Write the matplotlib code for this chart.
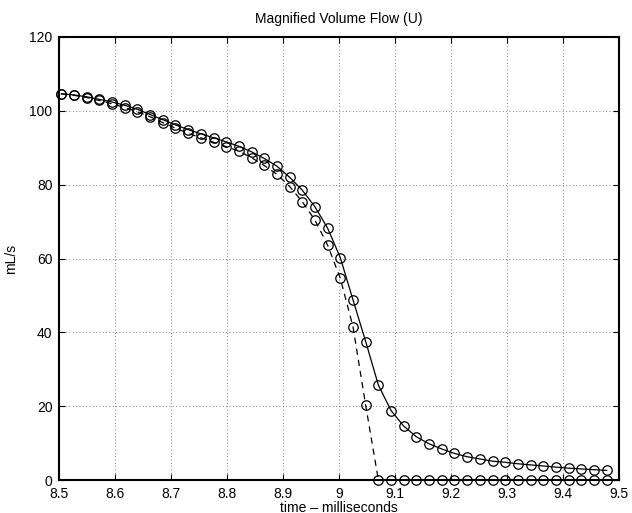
import numpy as np
import matplotlib
matplotlib.use("Agg")
import matplotlib.pyplot as plt
from matplotlib.ticker import FormatStrFormatter, MultipleLocator

# sample times (ms), 44.1 kHz samples 375..418
time_ms = [8.5034, 8.5261, 8.5488, 8.5714, 8.5941, 8.6168, 8.6395, 8.6621,
           8.6848, 8.7075, 8.7302, 8.7528, 8.7755, 8.7982, 8.8209, 8.8435,
           8.8662, 8.8889, 8.9116, 8.9342, 8.9569, 8.9796, 9.0023, 9.0249,
           9.0476, 9.0703, 9.0930, 9.1156, 9.1383, 9.1610, 9.1837, 9.2063,
           9.2290, 9.2517, 9.2744, 9.2971, 9.3197, 9.3424, 9.3651, 9.3878,
           9.4104, 9.4331, 9.4558, 9.4785]

# solid curve (mL/s)
flow_solid = [104.6, 104.3, 103.8, 103.1, 102.4, 101.5, 100.4, 99.0,
              97.6, 96.2, 94.9, 93.8, 92.7, 91.6, 90.4, 88.9,
              87.1, 85.0, 82.0, 78.5, 74.0, 68.2, 60.2, 48.8,
              37.5, 25.7, 18.8, 14.6, 11.7, 9.8, 8.4, 7.2,
              6.3, 5.7, 5.1, 4.8, 4.4, 4.1, 3.8, 3.5,
              3.2, 3.0, 2.8, 2.6]

# dashed curve (mL/s)
flow_dashed = [104.6, 104.2, 103.6, 102.8, 101.9, 100.9, 99.7, 98.4,
               96.8, 95.3, 93.9, 92.7, 91.5, 90.3, 89.1, 87.3,
               85.2, 82.8, 79.5, 75.4, 70.4, 63.6, 54.6, 41.5,
               20.2, 0, 0, 0, 0, 0, 0, 0,
               0, 0, 0, 0, 0, 0, 0, 0,
               0, 0, 0, 0]

plt.rcParams['font.family'] = ['Liberation Sans', 'DejaVu Sans']
plt.rcParams['font.size'] = 10

fig = plt.figure(figsize=(6.32, 5.13), dpi=100)
ax = fig.add_axes([0.094, 0.0643, 0.885, 0.8636])

ax.plot(time_ms, flow_solid, 'k-o', mfc='none', ms=6.8, lw=0.9, mew=0.9, clip_on=False, zorder=3)
ax.plot(time_ms, flow_dashed, 'k--o', mfc='none', ms=6.8, lw=0.9, mew=0.9,
        dashes=(5, 4), clip_on=False, zorder=3)

ax.set_xlim(8.5, 9.5)
ax.set_ylim(0, 120)
ax.xaxis.set_major_locator(MultipleLocator(0.1))
ax.yaxis.set_major_locator(MultipleLocator(20))
ax.xaxis.set_major_formatter(FormatStrFormatter('%g'))
ax.grid(True, color='#555555', linestyle=(0, (1, 3)), linewidth=0.6)
ax.tick_params(direction='in', top=True, right=True, length=4, width=0.8)
ax.tick_params(axis='x', pad=5)
ax.tick_params(axis='y', pad=5)
for s in ax.spines.values():
    s.set_linewidth(1.5)

ax.set_title("Magnified Volume Flow (U)", fontsize=10, pad=10)
ax.set_xlabel("time \u2013 milliseconds", labelpad=0)
ax.set_ylabel("mL/s", labelpad=8)

fig.savefig("out.png", dpi=100)
